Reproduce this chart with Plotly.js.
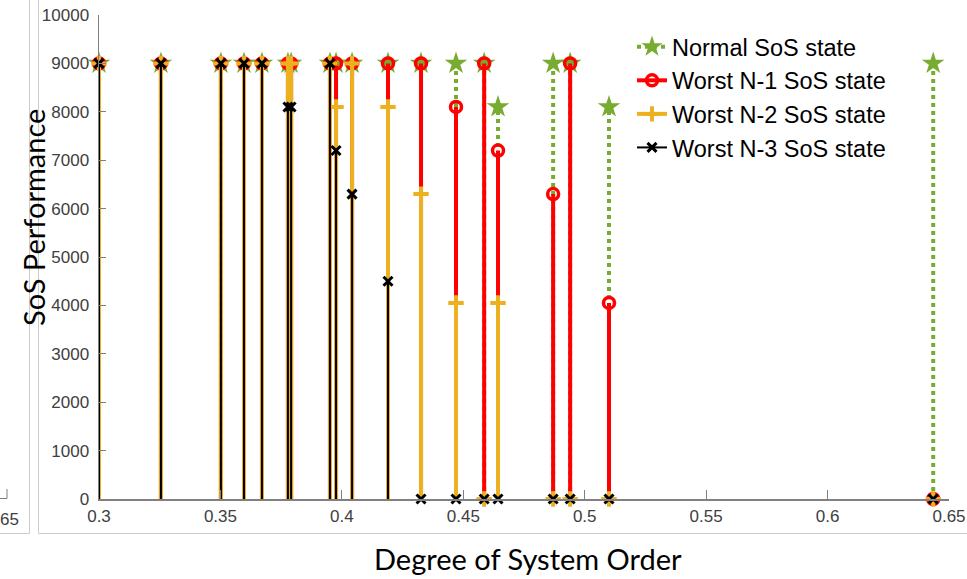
<!DOCTYPE html>
<html>
<head>
<meta charset="utf-8">
<script src="https://cdn.plot.ly/plotly-3.0.1.min.js"></script>
<style>html,body{margin:0;padding:0;background:#fff;}#chart{width:967px;height:579px;}</style>
</head>
<body>
<div id="chart"></div>
<script>
// ---- data ----
var degreeOrder = [0.300, 0.3255, 0.3502, 0.3597, 0.3671, 0.3778, 0.3791, 0.3951, 0.3976, 0.4042, 0.4190, 0.4326, 0.4470, 0.4586, 0.4643, 0.4870, 0.4940, 0.5100, 0.6435];
var normalState = [9000, 9000, 9000, 9000, 9000, 9000, 9000, 9000, 9000, 9000, 9000, 9000, 9000, 9000, 8100, 9000, 9000, 8100, 9000];
var worstN1 = [9000, 9000, 9000, 9000, 9000, 9000, 9000, 9000, 9000, 9000, 9000, 9000, 8100, 9000, 7200, 6300, 9000, 4050, 0];
var worstN2 = [9000, 9000, 9000, 9000, 9000, 9000, 9000, 9000, 8100, 9000, 8100, 6300, 4050, 0, 4050, 0, 0, 0, 0];
var worstN3 = [9000, 9000, 9000, 9000, 9000, 8100, 8100, 9000, 7200, 6300, 4500, 0, 0, 0, 0, 0, 0, 0, 0];
var seriesNames = ['Normal SoS state', 'Worst N-1 SoS state', 'Worst N-2 SoS state', 'Worst N-3 SoS state'];
var xTickVals = [0.3, 0.35, 0.4, 0.45, 0.5, 0.55, 0.6, 0.65];
var xTickText = ['0.3', '0.35', '0.4', '0.45', '0.5', '0.55', '0.6', '0.65'];
var yTickVals = [0, 1000, 2000, 3000, 4000, 5000, 6000, 7000, 8000, 9000, 10000];
var yTickText = ['0', '1000', '2000', '3000', '4000', '5000', '6000', '7000', '8000', '9000', '10000'];

// ---- styles ----
var styles = [
  {color: '#77AC30', width: 4, dash: 'dot', symbol: 'star', size: 17, mline: 0, mcolor: '#77AC30'},
  {color: '#FF0000', width: 4, dash: 'solid', symbol: 'circle-open', size: 11, mline: 3.5, mcolor: '#FF0000'},
  {color: '#EDB120', width: 4, dash: 'solid', symbol: 'cross-thin', size: 11, mline: 4, mcolor: '#EDB120'},
  {color: '#000000', width: 2, dash: 'solid', symbol: 'x-thin', size: 9, mline: 3, mcolor: '#000000'}
];
var allSeries = [normalState, worstN1, worstN2, worstN3];

function stemXY(xs, ys) {
  var sx = [], sy = [];
  for (var i = 0; i < xs.length; i++) {
    sx.push(xs[i], xs[i], null);
    sy.push(0, ys[i], null);
  }
  return {x: sx, y: sy};
}

var traces = [];
allSeries.forEach(function (vals, k) {
  var st = styles[k];
  var s = stemXY(degreeOrder, vals);
  traces.push({
    type: 'scatter', mode: 'lines', x: s.x, y: s.y, showlegend: false, hoverinfo: 'skip',
    line: {color: st.color, width: st.width, dash: st.dash}
  });
  traces.push({
    type: 'scatter', mode: 'markers', x: degreeOrder, y: vals, showlegend: false, cliponaxis: false,
    marker: {symbol: st.symbol, size: st.size, color: st.mcolor, line: {color: st.mcolor, width: st.mline}}
  });
});
// legend entries
allSeries.forEach(function (vals, k) {
  var st = styles[k];
  traces.push({
    type: 'scatter', mode: 'lines+markers', x: [null], y: [null], name: seriesNames[k],
    legendgroup: 'g' + k, showlegend: true,
    line: {color: st.color, width: st.width, dash: st.dash},
    marker: {symbol: st.symbol, size: st.size, color: st.mcolor, line: {color: st.mcolor, width: st.mline}}
  });
});

// pixel helpers for decorations outside the plot area
var L = 99, R = 949, T = 15, B = 499;
function px(x) { return (x - L) / (R - L); }
function py(y) { return (B - y) / (B - T); }

var frameColor = '#cccccc';
var shapes = [
  {type: 'line', xref: 'paper', yref: 'paper', x0: px(29.5), x1: px(29.5), y0: py(0), y1: py(533.5), line: {color: frameColor, width: 1}},
  {type: 'line', xref: 'paper', yref: 'paper', x0: px(0), x1: px(29.5), y0: py(533.5), y1: py(533.5), line: {color: frameColor, width: 1}},
  {type: 'line', xref: 'paper', yref: 'paper', x0: px(38.5), x1: px(38.5), y0: py(0), y1: py(533.5), line: {color: frameColor, width: 1}},
  {type: 'line', xref: 'paper', yref: 'paper', x0: px(38.5), x1: px(967), y0: py(533.5), y1: py(533.5), line: {color: frameColor, width: 1}},
  {type: 'line', xref: 'paper', yref: 'paper', x0: px(7), x1: px(7), y0: py(489), y1: py(498.5), line: {color: '#808080', width: 1}},
  {type: 'line', xref: 'paper', yref: 'paper', x0: px(0), x1: px(7), y0: py(498.5), y1: py(498.5), line: {color: '#808080', width: 1}}
];

var titleFont = {family: 'Lato, "Open Sans", sans-serif', size: 29, color: '#000'};
var annotations = [
  {xref: 'paper', yref: 'paper', x: px(528), y: py(578), text: 'Degree of System Order', showarrow: false, font: titleFont, xanchor: 'center', yanchor: 'bottom'},
  {xref: 'paper', yref: 'paper', x: px(33), y: py(218), text: 'SoS Performance', showarrow: false, font: titleFont, textangle: -90, xanchor: 'center', yanchor: 'middle'},
  {xref: 'paper', yref: 'paper', x: px(21), y: py(519), text: '65', showarrow: false, xanchor: 'right', yanchor: 'middle', font: {family: 'Liberation Sans, Arial, sans-serif', size: 17, color: '#404040'}}
];

var tickFont = {family: 'Liberation Sans, Arial, sans-serif', size: 17, color: '#404040'};
var layout = {
  width: 967, height: 579,
  margin: {l: L, r: 967 - R, t: T, b: 579 - B, pad: 0},
  paper_bgcolor: '#fff', plot_bgcolor: '#fff',
  showlegend: true,
  legend: {
    x: px(632), y: py(25), xanchor: 'left', yanchor: 'top',
    bgcolor: 'rgba(0,0,0,0)', borderwidth: 0,
    font: {family: 'Liberation Sans, Arial, sans-serif', size: 23.5, color: '#000'},
    traceorder: 'grouped', tracegroupgap: 0, itemwidth: 30
  },
  xaxis: {
    range: [0.3, 0.65], tickvals: xTickVals, ticktext: xTickText,
    ticks: 'inside', ticklen: 9, tickcolor: '#808080', tickwidth: 1,
    showline: true, linecolor: '#808080', linewidth: 1.5, showgrid: false, zeroline: false,
    tickfont: tickFont, fixedrange: true, ticklabelstandoff: 1
  },
  yaxis: {
    range: [0, 10000], tickvals: yTickVals, ticktext: yTickText,
    ticks: 'inside', ticklen: 7, tickcolor: '#808080', tickwidth: 1,
    showline: true, linecolor: '#808080', linewidth: 1.5, showgrid: false, zeroline: false,
    tickfont: tickFont, fixedrange: true, ticklabelstandoff: 5
  },
  shapes: shapes,
  annotations: annotations
};

Plotly.newPlot('chart', traces, layout, {displayModeBar: false, staticPlot: true});
</script>
</body>
</html>
